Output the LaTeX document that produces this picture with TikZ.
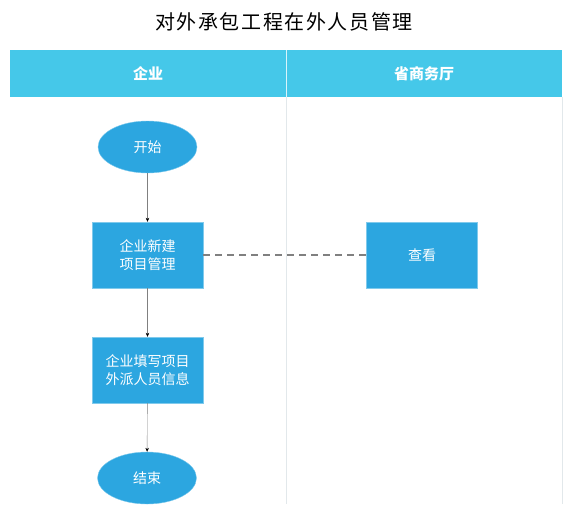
\documentclass[tikz,border=0pt]{standalone}
\usepackage{fontspec}
\setmainfont{Noto Sans CJK SC}
\newfontfamily\titlefont[LetterSpace=8]{Noto Sans CJK SC}
\usetikzlibrary{shapes.geometric,arrows.meta}
\definecolor{headcyan}{HTML}{45C8E9}
\definecolor{boxblue}{HTML}{2CA6E0}
\definecolor{laneline}{HTML}{E2E8EB}

\begin{document}
\begin{tikzpicture}[x=1pt,y=-1pt,
    proc/.style={draw=boxblue!60!white,fill=boxblue,text=white,minimum width=111pt,minimum height=66pt,inner sep=0pt,align=center,font=\fontsize{14}{18}\selectfont},
    term/.style={ellipse,draw=boxblue!60!white,fill=boxblue,text=white,minimum width=99pt,minimum height=52pt,inner sep=0pt,font=\fontsize{14}{18}\selectfont},
    lanehead/.style={text=white,font=\bfseries\fontsize{15}{18}\selectfont},
    flow/.style={draw=gray,thin,-{Stealth[length=4pt,width=3.5pt,black]}}]
            \useasboundingbox (0,0) rectangle (569,504);

            % lanes
            \fill[headcyan] (10,50) rectangle (562,97);
            \draw[white!80!headcyan] (286,50) -- (286,97);
            \draw[laneline] (286,97) -- (286,504);
            \draw[laneline] (562,97) -- (562,504);

            \node[font=\titlefont\fontsize{20}{24}\selectfont] (title) at (284,22) {对外承包工程在外人员管理};
            \node[lanehead] (qiye) at (148,74) {企业};
            \node[lanehead] (shangwu) at (424,74) {省商务厅};

            % flow
            \node[term] (start) at (147.5,147) {开始};
            \node[proc] (build) at (147.5,255) {企业新建\\项目管理};
            \node[proc] (view) at (422,255) {查看};
            \node[proc] (fillin) at (147.5,370) {企业填写项目\\外派人员信息};
            \node[term] (finish) at (147,478) {结束};

            \draw[flow] (start) -- (build);
            \draw[flow] (build) -- (fillin);
            \draw[flow] (fillin) -- (finish);
            \draw[gray,dashed,line width=1.2pt,dash pattern=on 7pt off 5pt] (build) -- (view);
        \end{tikzpicture}
\end{document}
